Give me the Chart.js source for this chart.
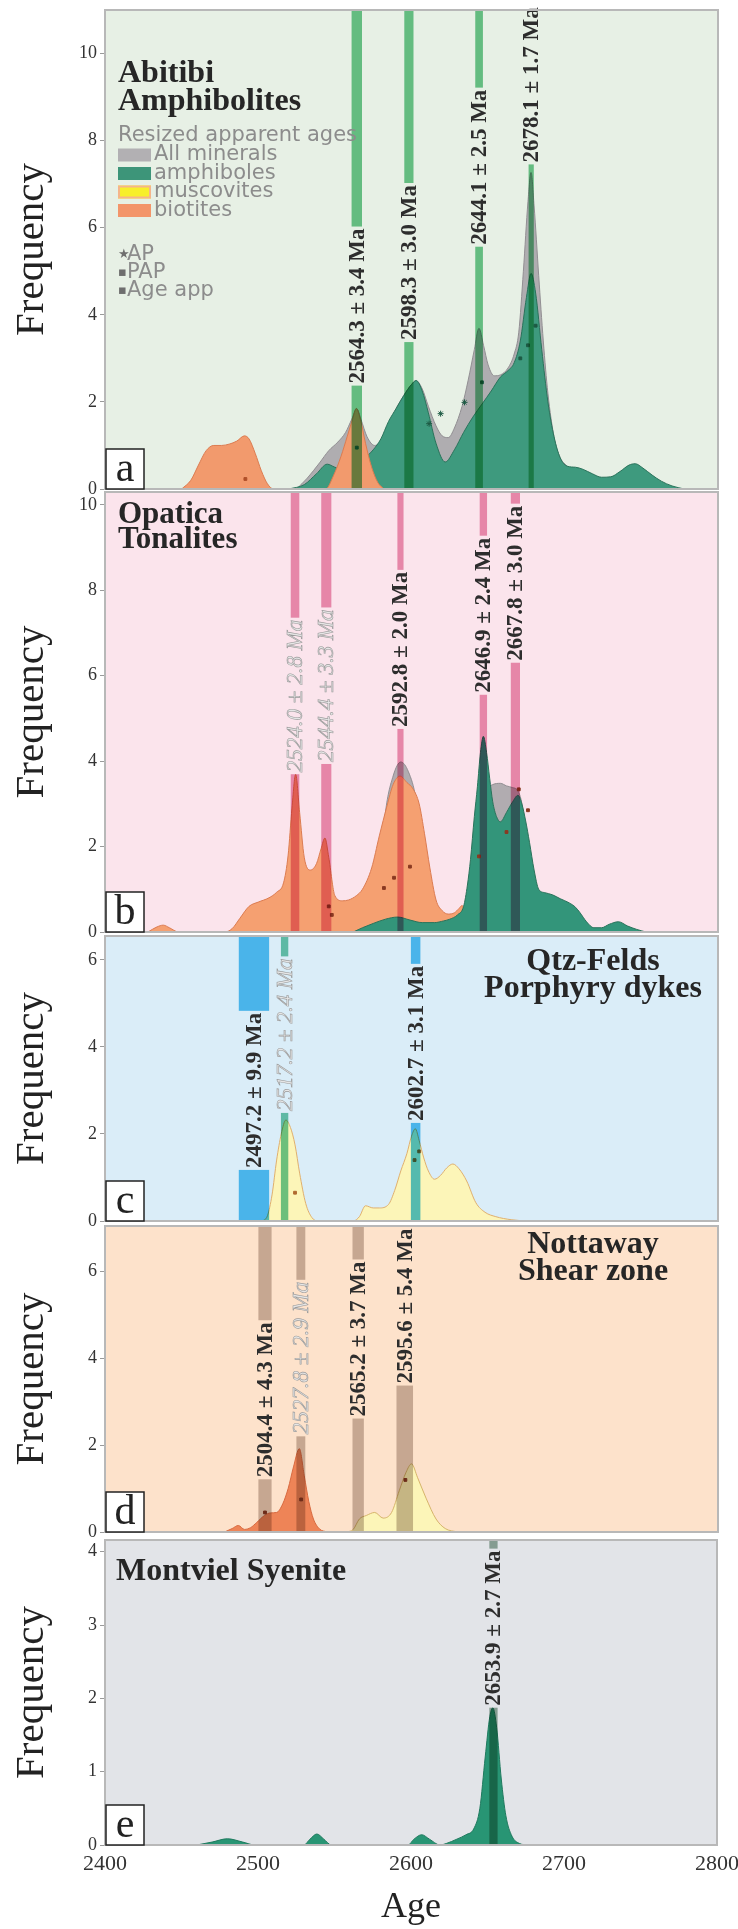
<!DOCTYPE html>
<html>
<head>
<meta charset="utf-8">
<script src="https://cdn.jsdelivr.net/npm/chart.js@4.4.1/dist/chart.umd.min.js"></script>
<style>
  html, body { margin: 0; padding: 0; background: #fff; width: 738px; height: 1929px; overflow: hidden; }
  canvas { position: absolute; left: 0; }
</style>
</head>
<body>
<canvas id="pa"></canvas>
<canvas id="pb"></canvas>
<canvas id="pc"></canvas>
<canvas id="pd"></canvas>
<canvas id="pe"></canvas>
<script>
// ─── DATA ───────────────────────────────────────────────────
const ageTicks = [2400, 2500, 2600, 2700, 2800];
const freqTicksAB = [0, 2, 4, 6, 8, 10];
const freqTicksCD = [0, 2, 4, 6];
const freqTicksE = [0, 1, 2, 3, 4];

// a — Abitibi amphibolites
const aAllAge  = [2525, 2532, 2540, 2546, 2552, 2557, 2561, 2564.3, 2567, 2571, 2576, 2581, 2586, 2590, 2595, 2600, 2603, 2607, 2611, 2616, 2620, 2624, 2628, 2633, 2637, 2641, 2644, 2647, 2650, 2654, 2658, 2663, 2667, 2670, 2673, 2676, 2678, 2680, 2683, 2686, 2689, 2693, 2697, 2702, 2710];
const aAllFreq = [0, 0.25, 0.6, 0.88, 1.08, 1.3, 1.6, 1.84, 1.6, 1.2, 1.0, 1.15, 1.55, 1.85, 2.15, 2.4, 2.49, 2.3, 1.9, 1.45, 1.22, 1.18, 1.4, 1.9, 2.5, 3.2, 3.69, 3.3, 2.85, 2.6, 2.62, 2.78, 3.1, 3.6, 5.0, 6.6, 7.27, 6.5, 4.9, 3.4, 2.2, 1.2, 0.72, 0.5, 0];
const aAmphAge  = [2520, 2530, 2538, 2545, 2550, 2555, 2560, 2565, 2570, 2575, 2580, 2585, 2590, 2595, 2600, 2603, 2607, 2611, 2616, 2622, 2628, 2634, 2640, 2646, 2652, 2658, 2663, 2667, 2671, 2675, 2678, 2681, 2685, 2689, 2693, 2697, 2702, 2707, 2712, 2718, 2724, 2730, 2736, 2742, 2746, 2751, 2757, 2763, 2770, 2778];
const aAmphFreq = [0, 0.1, 0.35, 0.57, 0.5, 0.45, 0.45, 0.55, 0.72, 0.9, 1.15, 1.55, 1.85, 2.15, 2.4, 2.49, 2.25, 1.75, 1.05, 0.62, 0.9, 1.3, 1.65, 1.95, 2.25, 2.57, 2.72, 2.9, 3.4, 4.4, 4.95, 4.5, 3.2, 2.0, 1.2, 0.72, 0.52, 0.5, 0.45, 0.35, 0.27, 0.28, 0.4, 0.55, 0.58, 0.48, 0.32, 0.18, 0.07, 0];
const aBioAge  = [2450, 2456, 2461, 2466, 2471, 2476, 2481, 2486, 2491, 2494, 2498, 2502, 2506, 2510, 2544, 2549, 2554, 2558, 2561.5, 2564, 2567, 2570, 2574, 2578, 2582];
const aBioFreq = [0, 0.2, 0.55, 0.88, 1.0, 1.0, 1.03, 1.1, 1.22, 1.15, 0.82, 0.42, 0.12, 0, 0, 0.3, 0.75, 1.2, 1.6, 1.85, 1.55, 1.05, 0.5, 0.15, 0];
const aApAge  = [2611.5, 2619, 2634.6];
const aApFreq = [1.5, 1.73, 1.99];
const aPapAge  = [2564.3, 2646, 2671, 2676, 2681];
const aPapFreq = [0.95, 2.45, 3.0, 3.3, 3.75];
const aBandAge = [2564.3, 2598.3, 2644.1, 2678.1];
const aBandErr = [3.4, 3.0, 2.5, 1.7];

// b — Opatica tonalites
const bAllAge  = [2576, 2583, 2588, 2593, 2598, 2603, 2608, 2613, 2643, 2649, 2653, 2658, 2662, 2666, 2669.5, 2672.5, 2676, 2680];
const bAllFreq = [0, 2.8, 3.65, 3.98, 3.75, 3.1, 1.6, 0, 0, 3.2, 3.45, 3.48, 3.42, 3.38, 3.3, 2.9, 1.6, 0];
const bBioAge  = [2428, 2434, 2438, 2442, 2448, 2478, 2483, 2488, 2494, 2500, 2507, 2512, 2516.5, 2519.5, 2522, 2524.4, 2527, 2530, 2534, 2538, 2541, 2543.5, 2546, 2550, 2555, 2559, 2564, 2568, 2574, 2579, 2584, 2588, 2592.5, 2597, 2601, 2605, 2608.5, 2612, 2616, 2620, 2624, 2628, 2631, 2633, 2635, 2637, 2639];
const bBioFreq = [0, 0.12, 0.16, 0.1, 0, 0, 0.08, 0.32, 0.6, 0.7, 0.8, 0.93, 1.15, 1.8, 2.9, 3.69, 2.8, 1.75, 1.45, 1.6, 1.95, 2.2, 1.75, 0.85, 0.73, 0.75, 0.85, 1.0, 1.5, 2.25, 2.95, 3.45, 3.65, 3.5, 3.35, 3.0, 2.3, 1.5, 0.75, 0.5, 0.42, 0.45, 0.55, 0.62, 0.45, 0.15, 0];
const bAmphAge  = [2562, 2568, 2575, 2583, 2591, 2599, 2607, 2615, 2621, 2625, 2630, 2634, 2636.5, 2638.5, 2641, 2643, 2645, 2646.9, 2649, 2651, 2653, 2655.5, 2658, 2662, 2666, 2669.5, 2672, 2674.5, 2677, 2680, 2683, 2687, 2692, 2697, 2703, 2707, 2710, 2714, 2719, 2724, 2729, 2735, 2741, 2747, 2753];
const bAmphFreq = [0, 0.1, 0.2, 0.3, 0.35, 0.28, 0.22, 0.22, 0.26, 0.3, 0.4, 0.6, 1.1, 1.7, 2.7, 3.4, 4.2, 4.58, 4.2, 3.6, 3.05, 2.7, 2.58, 2.8, 3.05, 3.2, 3.0, 2.6, 2.1, 1.45, 1.0, 0.92, 0.87, 0.78, 0.68, 0.58, 0.45, 0.25, 0.1, 0.1, 0.18, 0.24, 0.14, 0.06, 0];
const bMarkAge  = [2546, 2548, 2582, 2588.6, 2599, 2644, 2662, 2670, 2676];
const bMarkFreq = [0.6, 0.4, 1.03, 1.27, 1.53, 1.77, 2.34, 3.34, 2.85];
const bBandAge = [2524.0, 2544.4, 2592.8, 2646.9, 2667.8];
const bBandErr = [2.8, 3.3, 2.0, 2.4, 3.0];

// c — Qtz-Felds porphyry dykes
const cMusAge  = [2503, 2506, 2509, 2512, 2515, 2518, 2521, 2524, 2527, 2531, 2535, 2539, 2562, 2566, 2570, 2575, 2579, 2585, 2589, 2593, 2597, 2600, 2602.5, 2605, 2608, 2611, 2615, 2619, 2623, 2627, 2631, 2636, 2642, 2648, 2655, 2665, 2675];
const cMusFreq = [0, 0.12, 0.6, 1.4, 2.0, 2.32, 2.15, 1.75, 1.1, 0.4, 0.08, 0, 0, 0.1, 0.35, 0.3, 0.3, 0.38, 0.7, 1.15, 1.55, 1.95, 2.12, 1.85, 1.45, 1.15, 0.96, 1.05, 1.22, 1.31, 1.2, 0.92, 0.42, 0.2, 0.1, 0.03, 0];
const cMarkAge  = [2524, 2602, 2605];
const cMarkFreq = [0.65, 1.4, 1.6];
const cBandAge = [2497.2, 2517.2, 2602.7];
const cBandErr = [9.9, 2.4, 3.1];

// d — Nottaway shear zone
const dBioAge  = [2478, 2483, 2487, 2491, 2495, 2499, 2504, 2508, 2512, 2516, 2519.5, 2523, 2526.8, 2530, 2533, 2536, 2540, 2545];
const dBioFreq = [0, 0.08, 0.15, 0.06, 0.1, 0.22, 0.38, 0.44, 0.45, 0.65, 1.0, 1.5, 1.92, 1.3, 0.7, 0.3, 0.07, 0];
const dMusAge  = [2558, 2562, 2566, 2570.5, 2576, 2581.5, 2587, 2592, 2596.5, 2600, 2604, 2609.5, 2616, 2622, 2630];
const dMusFreq = [0, 0.06, 0.3, 0.38, 0.45, 0.32, 0.45, 0.95, 1.38, 1.57, 1.25, 0.78, 0.3, 0.08, 0];
const dMarkAge  = [2504.4, 2528, 2596];
const dMarkFreq = [0.45, 0.75, 1.2];
const dBandAge = [2504.4, 2527.8, 2565.2, 2595.6];
const dBandErr = [4.3, 2.9, 3.7, 5.4];

// e — Montviel syenite
const eAmphAge  = [2460, 2470, 2480, 2490, 2498, 2530, 2534, 2538.5, 2543, 2548, 2598, 2602, 2607, 2612, 2619, 2623, 2630, 2636, 2641, 2645, 2648.5, 2651.5, 2653.5, 2656, 2659, 2662, 2666, 2671, 2676];
const eAmphFreq = [0, 0.04, 0.085, 0.04, 0, 0, 0.08, 0.15, 0.08, 0, 0, 0.08, 0.14, 0.08, 0, 0.02, 0.08, 0.14, 0.22, 0.5, 1.2, 1.75, 1.87, 1.6, 0.9, 0.4, 0.12, 0.02, 0];
const eBandAge = [2653.9];
const eBandErr = [2.7];

// ─── DRAWING ────────────────────────────────────────────────
const SERIF = '"Liberation Serif", "Times New Roman", serif';
const SANS = '"DejaVu Sans", sans-serif';
Chart.defaults.font.family = SERIF;

function pts(ages, freqs) {
  return ages.map((x, i) => ({ x: x, y: freqs[i] }));
}

function area(ages, freqs, fill, line, order) {
  return {
    data: pts(ages, freqs),
    backgroundColor: fill,
    borderColor: line,
    borderWidth: 1,
    fill: 'origin',
    order: order,
    pointRadius: 0,
    cubicInterpolationMode: 'monotone'
  };
}

function marks(ages, freqs, color, style, r) {
  return {
    data: pts(ages, freqs),
    showLine: false,
    pointStyle: style,
    pointRadius: r,
    backgroundColor: color,
    borderColor: color,
    borderWidth: 1,
    order: 0
  };
}

function bands(ages, errs, anchors, colors, faint) {
  return ages.map((a, i) => ({
    age: a, err: errs[i], at: anchors[i],
    color: colors[i] || colors[0],
    faint: !!(faint && faint[i]),
    text: a.toFixed(1) + ' \u00b1 ' + errs[i].toFixed(1) + ' Ma'
  }));
}

function decorPlugin(p) {
  return {
    id: 'decor',
    beforeDraw(chart) {
      const { ctx, chartArea: ca } = chart;
      ctx.save();
      ctx.fillStyle = p.bg;
      ctx.fillRect(ca.left, ca.top, ca.right - ca.left, ca.bottom - ca.top);
      ctx.restore();
    },
    afterDatasetsDraw(chart) {
      const { ctx, chartArea: ca } = chart;
      const xs = chart.scales.x, ys = chart.scales.y;
      const base = ys.getPixelForValue(0);

      // error bands + rotated age labels
      p.bands.forEach(b => {
        const x0 = xs.getPixelForValue(b.age - b.err);
        const x1 = xs.getPixelForValue(b.age + b.err);
        const xc = xs.getPixelForValue(b.age);
        const yb = ys.getPixelForValue(b.at);
        ctx.save();
        ctx.font = (b.faint ? 'italic ' : 'bold ') + '23px ' + SERIF;
        const len = ctx.measureText(b.text).width;
        const yt = yb - len;
        ctx.globalCompositeOperation = 'multiply';
        ctx.fillStyle = b.color;
        if (yt - 2 > ca.top) ctx.fillRect(x0, ca.top, x1 - x0, yt - 2 - ca.top);
        if (base > yb + 2) ctx.fillRect(x0, yb + 2, x1 - x0, base - yb - 2);
        ctx.globalCompositeOperation = 'source-over';
        ctx.translate(xc + 1, yb);
        ctx.rotate(-Math.PI / 2);
        ctx.textAlign = 'left';
        ctx.textBaseline = 'middle';
        if (b.faint) {
          ctx.fillStyle = '#e6e6e6';
          ctx.fillText(b.text, 0, 0);
          ctx.strokeStyle = '#9a9a9a';
          ctx.lineWidth = 0.6;
          ctx.strokeText(b.text, 0, 0);
        } else {
          ctx.fillStyle = '#2d2d2d';
          ctx.fillText(b.text, 0, 0);
        }
        ctx.restore();
      });

      ctx.save();
      // frame
      ctx.strokeStyle = '#b8b8b8';
      ctx.lineWidth = 2;
      ctx.strokeRect(ca.left, ca.top, ca.right - ca.left, ca.bottom - ca.top);

      // panel letter
      ctx.fillStyle = '#fff';
      ctx.fillRect(ca.left + 1, ca.bottom - 40, 38, 40);
      ctx.strokeStyle = '#222';
      ctx.lineWidth = 1.5;
      ctx.strokeRect(ca.left + 1, ca.bottom - 40, 38, 40);
      ctx.fillStyle = '#222';
      ctx.font = '42px ' + SERIF;
      ctx.textAlign = 'center';
      ctx.textBaseline = 'alphabetic';
      ctx.fillText(p.letter, ca.left + 20, ca.bottom - 8);

      // panel title
      ctx.font = 'bold ' + p.titleSize + 'px ' + SERIF;
      ctx.fillStyle = '#262626';
      p.title.forEach(t => {
        ctx.textAlign = t.align || 'left';
        ctx.fillText(t.text, ca.left + t.dx, ca.top + t.dy);
      });

      // legend (panel a only)
      if (p.legend) {
        const lx = ca.left + 13;
        ctx.textAlign = 'left';
        ctx.fillStyle = '#8c8c8c';
        ctx.font = '21px ' + SANS;
        ctx.fillText('Resized apparent ages', lx, ca.top + 131);
        ctx.textBaseline = 'middle';
        p.legend.forEach((it, i) => {
          const cy = ca.top + [145, 163.5, 182, 200.5][i];
          ctx.fillStyle = it.color;
          ctx.fillRect(lx, cy - 6.5, 33, 13);
          if (it.edge) {
            ctx.strokeStyle = it.edge;
            ctx.lineWidth = 2;
            ctx.strokeRect(lx + 1, cy - 5.5, 31, 11);
          }
          ctx.fillStyle = '#8c8c8c';
          ctx.fillText(it.text, lx + 36, cy);
        });
        const sym = [['\u2605', 'AP'], ['\u25aa', 'PAP'], ['\u25aa', 'Age app']];
        sym.forEach((s, i) => {
          const cy = ca.top + [245, 263, 281][i];
          ctx.fillStyle = '#6e6e6e';
          ctx.font = '13px ' + SANS;
          ctx.fillText(s[0], lx, cy);
          ctx.fillStyle = '#8c8c8c';
          ctx.font = '21px ' + SANS;
          ctx.fillText(s[1], lx + 9, cy);
        });
      }
      ctx.restore();
    }
  };
}

function makePanel(p) {
  const cv = document.getElementById(p.id);
  const last = !!p.showAge;
  cv.width = 745;
  cv.height = p.bottom - p.top + 15 + (last ? 84 : 15);
  cv.style.top = (p.top - 15) + 'px';
  const xAxis = {
    type: 'linear', min: 2400, max: 2800, display: last,
    afterBuildTicks: s => { s.ticks = ageTicks.map(v => ({ value: v })); },
    ticks: { color: '#333', font: { size: 22 }, padding: 6, maxRotation: 0, callback: v => String(v) },
    grid: { display: false, drawTicks: false },
    border: { display: false },
    title: { display: true, text: 'Age', color: '#222', font: { size: 36 }, padding: { top: 0, bottom: 0 } }
  };
  if (last) xAxis.afterFit = s => { s.height = 84; };
  new Chart(cv, {
    type: 'line',
    data: { datasets: p.datasets },
    options: {
      responsive: false,
      animation: false,
      events: [],
      layout: { padding: { top: 15, bottom: last ? 0 : 15, left: 0, right: 27 } },
      plugins: { legend: { display: false }, tooltip: { enabled: false } },
      scales: {
        x: xAxis,
        y: {
          type: 'linear', min: 0, max: p.ymax,
          afterBuildTicks: s => { s.ticks = p.yTicks.map(v => ({ value: v })); },
          afterFit: s => { s.width = 105; },
          ticks: { color: '#333', font: { size: 18 }, padding: 3 },
          grid: { drawOnChartArea: false, tickLength: 5, color: '#9a9a9a' },
          border: { display: false },
          title: { display: true, text: 'Frequency', color: '#222', font: { size: 41 }, padding: { top: 8, bottom: 0 } }
        }
      }
    },
    plugins: [decorPlugin(p)]
  });
}

const green = '#3e9a7e', greenLine = '#2a735b';
const orange = '#f29a6d', orangeLine = '#dc7c51';
const grayFill = 'rgba(168,165,170,0.9)', grayLine = '#928f93';
const yellow = '#fcf5b8', yellowLine = '#e0b06e';

makePanel({
  id: 'pa', top: 10, bottom: 489, ymax: 11, yTicks: freqTicksAB, bg: '#e7f0e5', letter: 'a',
  titleSize: 32,
  title: [{ text: 'Abitibi', dx: 13, dy: 72 }, { text: 'Amphibolites', dx: 13, dy: 100 }],
  legend: [
    { text: 'All minerals', color: '#b2b0b3' },
    { text: 'amphiboles', color: '#3d9579' },
    { text: 'muscovites', color: '#f7ef2a', edge: '#f5b58a' },
    { text: 'biotites', color: '#f3956a' }
  ],
  bands: bands(aBandAge, aBandErr, [2.42, 3.42, 5.61, 7.5], ['rgb(110,200,142)']),
  datasets: [
    marks(aApAge, aApFreq, '#1d5a44', 'star', 3),
    marks(aPapAge, aPapFreq, '#1d5a44', 'rect', 2),
    marks([2491.6], [0.23], '#b0502a', 'rect', 2),
    area(aBioAge, aBioFreq, orange, orangeLine, 1),
    area(aAmphAge, aAmphFreq, green, greenLine, 2),
    area(aAllAge, aAllFreq, grayFill, grayLine, 3)
  ]
});

makePanel({
  id: 'pb', top: 492, bottom: 932, ymax: 10.3, yTicks: freqTicksAB, bg: '#fbe4ec', letter: 'b',
  titleSize: 31,
  title: [{ text: 'Opatica', dx: 13, dy: 31 }, { text: 'Tonalites', dx: 13, dy: 56 }],
  bands: bands(bBandAge, bBandErr, [3.74, 3.98, 4.8, 5.6, 6.35], ['rgb(234,150,182)'], [true, true, false, false, false]),
  datasets: [
    marks(bMarkAge, bMarkFreq, '#8a3a22', 'rect', 2),
    area(bAmphAge, bAmphFreq, '#33957a', greenLine, 1),
    area(bBioAge, bBioFreq, '#f5a071', orangeLine, 2),
    area(bAllAge, bAllFreq, grayFill, grayLine, 3)
  ]
});

makePanel({
  id: 'pc', top: 936, bottom: 1221, ymax: 6.55, yTicks: freqTicksCD, bg: '#daedf8', letter: 'c',
  titleSize: 32,
  title: [{ text: 'Qtz-Felds', dx: 488, dy: 34, align: 'center' }, { text: 'Porphyry dykes', dx: 488, dy: 61, align: 'center' }],
  bands: bands(cBandAge, cBandErr, [1.22, 2.53, 2.3], ['rgb(86,194,241)', 'rgb(110,199,170)', 'rgb(86,194,241)'], [false, true, false]),
  datasets: [
    marks(cMarkAge, cMarkFreq, '#b06a30', 'rect', 2),
    area(cMusAge, cMusFreq, yellow, yellowLine, 1)
  ]
});

makePanel({
  id: 'pd', top: 1226, bottom: 1532, ymax: 7.05, yTicks: freqTicksCD, bg: '#fde2cb', letter: 'd',
  titleSize: 32,
  title: [{ text: 'Nottaway', dx: 488, dy: 27, align: 'center' }, { text: 'Shear zone', dx: 488, dy: 54, align: 'center' }],
  bands: bands(dBandAge, dBandErr, [1.26, 2.25, 2.66, 3.42], ['rgb(200,189,182)'], [false, true, false, false]),
  datasets: [
    marks(dMarkAge, dMarkFreq, '#8a3a22', 'rect', 2),
    area(dBioAge, dBioFreq, '#ee8457', '#d86a40', 1),
    area(dMusAge, dMusFreq, yellow, '#d6b46a', 2)
  ]
});

makePanel({
  id: 'pe', top: 1540, bottom: 1845, ymax: 4.16, yTicks: freqTicksE, bg: '#e2e4e8', letter: 'e',
  titleSize: 32, showAge: true,
  title: [{ text: 'Montviel Syenite', dx: 11, dy: 40 }],
  bands: bands(eBandAge, eBandErr, [1.9], ['rgb(150,175,160)']),
  datasets: [
    area(eAmphAge, eAmphFreq, '#289574', '#1f7a5e', 1)
  ]
});
</script>
</body>
</html>
